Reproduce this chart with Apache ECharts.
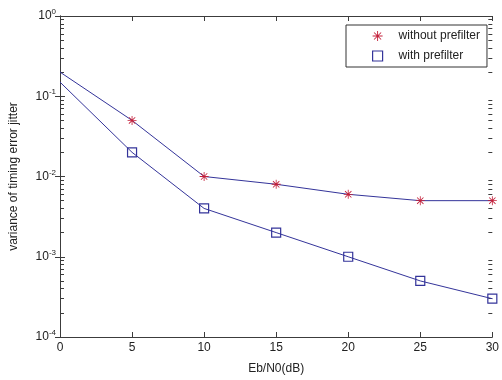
<!DOCTYPE html>
<html>
<head>
<meta charset="utf-8">
<script src="https://cdn.jsdelivr.net/npm/echarts@6/dist/echarts.min.js"></script>
<style>
  html, body { margin: 0; padding: 0; background: #fff; }
  #chart { width: 502px; height: 380px; }
</style>
</head>
<body>
<div id="chart"></div>
<script>
const snr = [0, 5, 10, 15, 20, 25, 30];
const withoutPrefilter = [0.2, 0.05, 0.01, 0.008, 0.006, 0.005, 0.005];
const withPrefilter = [0.15, 0.02, 0.004, 0.002, 0.001, 0.0005, 0.0003];
const seriesNames = ['without prefilter', 'with prefilter'];

const lineColor = '#34349a';
const starColor = '#c4203a';
const axisColor = '#3c3c3c';
const font = 'Liberation Sans, Arial, sans-serif';

// asterisk marker built from four thin bars (+ and x)
function asteriskPath() {
  const c = 50, r = 50, t = 9;
  let d = '';
  [0, 45, 90, 135].forEach(deg => {
    const a = deg * Math.PI / 180;
    const dx = Math.cos(a), dy = Math.sin(a);
    const nx = -dy, ny = dx;
    const pts = [
      [c + r * dx + t / 2 * nx, c + r * dy + t / 2 * ny],
      [c + r * dx - t / 2 * nx, c + r * dy - t / 2 * ny],
      [c - r * dx - t / 2 * nx, c - r * dy - t / 2 * ny],
      [c - r * dx + t / 2 * nx, c - r * dy + t / 2 * ny],
    ];
    d += 'M' + pts.map(p => p[0].toFixed(2) + ' ' + p[1].toFixed(2)).join(' L') + ' Z ';
  });
  return 'path://' + d;
}
const star = asteriskPath();

// minor ticks 2..9 x 10^k
const minorTicks = [];
for (let k = -4; k < 0; k++) {
  for (let m = 2; m <= 9; m++) minorTicks.push(+(m * Math.pow(10, k)).toPrecision(3));
}

// first point has no marker
const toData = ys => ys.map((y, i) => i === 0 ? { value: [snr[i], y], symbol: 'none' } : [snr[i], y]);

const chart = echarts.init(document.getElementById('chart'));

const logAxisBase = {
  type: 'log',
  gridIndex: 0,
  min: 1e-4,
  max: 1,
  logBase: 10,
  splitLine: { show: false },
  axisLine: { show: true, lineStyle: { color: axisColor, width: 1 } },
};

chart.setOption({
  animation: false,
  backgroundColor: '#fff',
  textStyle: { fontFamily: font },
  grid: { left: 58, right: 1, top: 16, bottom: 34, containLabel: false },
  legend: {
    orient: 'vertical',
    left: 346,
    top: 25,
    padding: [5, 7, 5, 26],
    itemGap: 8,
    itemWidth: 10,
    itemHeight: 10,
    borderColor: '#333',
    borderWidth: 1,
    borderRadius: 0,
    backgroundColor: '#fff',
    textStyle: { fontSize: 12, color: '#222', fontFamily: font, padding: [0, 0, 0, 11] },
    data: [
      { name: seriesNames[0], icon: star, itemStyle: { color: starColor } },
      { name: seriesNames[1], icon: 'rect', itemStyle: { color: '#fff', borderColor: lineColor, borderWidth: 1.2 } },
    ],
  },
  xAxis: [
    {
      type: 'value',
      position: 'bottom',
      min: 0,
      max: 30,
      interval: 5,
      name: 'Eb/N0(dB)',
      nameLocation: 'middle',
      nameGap: 26,
      nameTextStyle: { fontSize: 12, color: '#222' },
      axisLine: { show: true, onZero: false, lineStyle: { color: axisColor } },
      axisTick: { inside: true, length: 5, lineStyle: { color: axisColor } },
      axisLabel: { fontSize: 12, color: '#222', margin: 5 },
      splitLine: { show: false },
    },
    {
      type: 'value',
      position: 'top',
      min: 0,
      max: 30,
      interval: 5,
      axisLine: { show: true, onZero: false, lineStyle: { color: axisColor } },
      axisTick: { inside: true, length: 5, lineStyle: { color: axisColor } },
      axisLabel: { show: false },
      splitLine: { show: false },
    },
  ],
  yAxis: [
    Object.assign({}, logAxisBase, {
      position: 'left',
      interval: 1,
      name: 'variance of timing error jitter',
      nameLocation: 'middle',
      nameGap: 40,
      nameTextStyle: { fontSize: 12, color: '#222' },
      axisTick: { inside: true, length: 5, lineStyle: { color: axisColor } },
      axisLabel: {
        margin: 4,
        fontSize: 12,
        color: '#222',
        formatter: v => '10{e|' + Math.round(Math.log10(v)) + '}',
        rich: { e: { fontSize: 8, color: '#222', padding: [0, 0, 8, 0] } },
      },
    }),
    Object.assign({}, logAxisBase, {
      position: 'right',
      interval: 1,
      axisTick: { inside: true, length: 5, lineStyle: { color: axisColor } },
      axisLabel: { show: false },
    }),
    Object.assign({}, logAxisBase, {
      position: 'left',
      axisLine: { show: false },
      axisTick: { inside: true, length: 4, customValues: minorTicks, lineStyle: { color: axisColor } },
      axisLabel: { show: false },
    }),
    Object.assign({}, logAxisBase, {
      position: 'right',
      axisLine: { show: false },
      axisTick: { inside: true, length: 4, customValues: minorTicks, lineStyle: { color: axisColor } },
      axisLabel: { show: false },
    }),
  ],
  series: [
    {
      name: seriesNames[0],
      type: 'line',
      xAxisIndex: 0,
      yAxisIndex: 0,
      data: toData(withoutPrefilter),
      symbol: star,
      symbolSize: 9,
      itemStyle: { color: starColor },
      lineStyle: { color: lineColor, width: 1 },
      z: 3,
    },
    {
      name: seriesNames[1],
      type: 'line',
      xAxisIndex: 0,
      yAxisIndex: 0,
      data: toData(withPrefilter),
      symbol: 'rect',
      symbolSize: 9,
      itemStyle: { color: 'rgba(255,255,255,0)', borderColor: lineColor, borderWidth: 1.2 },
      lineStyle: { color: lineColor, width: 1 },
      z: 3,
    },
  ],
});
</script>
</body>
</html>
